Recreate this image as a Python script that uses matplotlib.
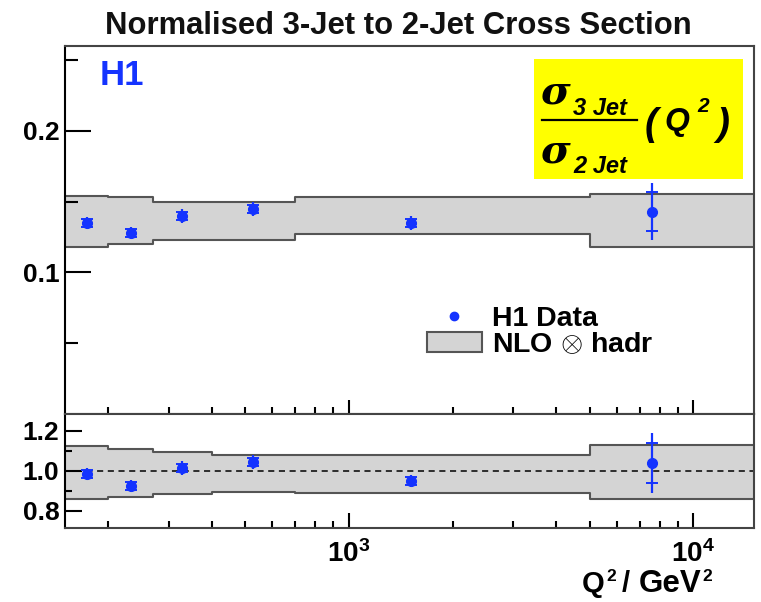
import numpy as np
import matplotlib
matplotlib.use('Agg')
import matplotlib.pyplot as plt
from matplotlib.lines import Line2D
from matplotlib.patches import Patch
from matplotlib.ticker import FixedLocator, NullFormatter, FixedFormatter

plt.rcParams['font.family'] = ['Liberation Sans', 'DejaVu Sans']
plt.rcParams['font.weight'] = 'bold'
plt.rcParams['mathtext.fontset'] = 'custom'
plt.rcParams['mathtext.rm'] = 'Liberation Sans:bold'
plt.rcParams['mathtext.it'] = 'Liberation Sans:bold:italic'
plt.rcParams['mathtext.bf'] = 'Liberation Sans:bold'

##### data
bin_edges = [150, 200, 270, 400, 700, 5000, 15000]
nlo_lo = [0.118, 0.120, 0.1226, 0.123, 0.1275, 0.118]
nlo_hi = [0.154, 0.1535, 0.150, 0.150, 0.1535, 0.1556]
ratio_lo = [0.86, 0.87, 0.885, 0.893, 0.89, 0.86]
ratio_hi = [1.125, 1.11, 1.095, 1.08, 1.08, 1.13]

q2 = [174, 233, 328, 527, 1515, 7600]
r32 = [0.135, 0.128, 0.140, 0.145, 0.135, 0.143]
r32_stat = [0.003, 0.003, 0.003, 0.003, 0.003, 0.014]
r32_tot = [0.004, 0.004, 0.005, 0.005, 0.005, 0.020]

ratio = [0.985, 0.925, 1.015, 1.045, 0.95, 1.04]
ratio_stat = [0.02, 0.02, 0.02, 0.02, 0.02, 0.10]
ratio_tot = [0.03, 0.03, 0.035, 0.035, 0.03, 0.15]

blue = '#1433ff'
band_c = '#d4d4d4'
edge_c = '#555555'

W, H = 761, 602
fig = plt.figure(figsize=(W / 100, H / 100), dpi=100)

def fx(px):
    return px / W

def fy(py):
    return 1 - py / H

ax = fig.add_axes([fx(65), fy(414), fx(754) - fx(65), fy(46) - fy(414)])
axr = fig.add_axes([fx(65), fy(528), fx(754) - fx(65), fy(414) - fy(528)], sharex=ax)


def draw_band(a, lo, hi):
    lo_s = list(lo) + [lo[-1]]
    hi_s = list(hi) + [hi[-1]]
    a.fill_between(bin_edges, lo_s, hi_s, step='post', color=band_c, lw=0)
    a.step(bin_edges, lo_s, where='post', color=edge_c, lw=1.5)
    a.step(bin_edges, hi_s, where='post', color=edge_c, lw=1.5)


def draw_points(a, y, stat, tot):
    a.errorbar(q2, y, yerr=tot, fmt='o', color=blue, ms=7, elinewidth=1.6, capsize=0, zorder=5)
    a.errorbar(q2, y, yerr=stat, fmt='none', ecolor=blue, elinewidth=0, capsize=4.5, capthick=1.4, zorder=5)


draw_band(ax, nlo_lo, nlo_hi)
draw_points(ax, r32, r32_stat, r32_tot)
draw_band(axr, ratio_lo, ratio_hi)
axr.axhline(1.0, color='black', ls=(0, (4, 3)), lw=1.1)
draw_points(axr, ratio, ratio_stat, ratio_tot)

ax.set_xscale('log')
ax.set_xlim(150, 15000)
ax.set_ylim(0.0, 0.26)
axr.set_ylim(0.715, 1.285)

for a in (ax, axr):
    for s in ('top', 'right', 'bottom'):
        a.spines[s].set_color('#444444')
        a.spines[s].set_linewidth(1.5)
    a.spines['left'].set_color('black')
    a.spines['left'].set_linewidth(1.5)
    a.xaxis.set_major_locator(FixedLocator([1e3, 1e4]))
    a.xaxis.set_minor_locator(FixedLocator([200, 300, 400, 500, 600, 700, 800, 900,
                                            2000, 3000, 4000, 5000, 6000, 7000, 8000, 9000]))
    a.xaxis.set_minor_formatter(NullFormatter())
    a.tick_params(axis='both', which='both', direction='in', top=False, right=False,
                  color='black', width=1.5)

ax.tick_params(axis='x', which='major', length=10, labelbottom=False)
ax.tick_params(axis='x', which='minor', length=5)
ax.yaxis.set_major_locator(FixedLocator([0.1, 0.2]))
ax.yaxis.set_minor_locator(FixedLocator([0.05, 0.15, 0.25]))
ax.yaxis.set_major_formatter(FixedFormatter(['0.1', '0.2']))
ax.tick_params(axis='y', which='major', length=19, labelsize=19, pad=4)
ax.tick_params(axis='y', which='minor', length=9)

axr.yaxis.set_major_locator(FixedLocator([0.8, 1.0, 1.2]))
axr.yaxis.set_minor_locator(FixedLocator([0.9, 1.1]))
axr.yaxis.set_major_formatter(FixedFormatter(['0.8', '1.0', '1.2']))
axr.tick_params(axis='y', which='major', length=12, labelsize=19, pad=4)
axr.tick_params(axis='y', which='minor', length=5)
axr.xaxis.set_major_formatter(FixedFormatter([r'$10^{3}$', r'$10^{4}$']))
axr.tick_params(axis='x', which='major', length=11, labelsize=20, pad=9)
axr.tick_params(axis='x', which='minor', length=5)

# legend
handles = [Line2D([], [], ls='none', marker='o', color=blue, ms=6),
           Patch(facecolor=band_c, edgecolor=edge_c, lw=1.5)]
leg = ax.legend(handles, ['H1 Data', r'NLO $\otimes$ hadr'], loc='upper left',
                bbox_to_anchor=(0.525, 0.293), frameon=False, fontsize=20.5,
                handlelength=1.95, handleheight=0.7, handletextpad=0.35,
                labelspacing=0.0, borderpad=0, borderaxespad=0)

# texts
fig.text(fx(398), fy(34), 'Normalised 3-Jet to 2-Jet Cross Section', ha='center',
         va='baseline', fontsize=22.3, fontweight='bold', color='#111111')
fig.text(fx(100), fy(85), 'H1', ha='left', va='baseline', fontsize=25,
         fontweight='bold', color=blue)

# yellow label box
fig.patches.append(plt.Rectangle((fx(534), fy(179)), fx(743) - fx(534), fy(59) - fy(179),
                                 transform=fig.transFigure, facecolor='#ffff00',
                                 edgecolor='none', zorder=3))
sig_kw = dict(family=['DejaVu Serif'], style='italic', fontweight='bold',
              fontsize=29, ha='left', va='baseline', zorder=4)
sub_kw = dict(style='italic', fontweight='bold', fontsize=17, ha='left', va='baseline', zorder=4)
fig.text(fx(540), fy(103), '\u03c3', **sig_kw)
fig.text(fx(573), fy(115), '3 Jet', **sub_kw)
fig.text(fx(540), fy(163), '\u03c3', **sig_kw)
fig.text(fx(573), fy(173), '2 Jet', **sub_kw)
fig.add_artist(Line2D([fx(542), fx(637)], [fy(120), fy(120)], color='black', lw=1.6, zorder=4))
big_kw = dict(style='italic', fontweight='bold', ha='left', va='baseline', zorder=4)
fig.text(fx(645), fy(135), '(', fontsize=28, **big_kw)
fig.text(fx(664), fy(130), 'Q', fontsize=23, **big_kw)
fig.text(fx(697), fy(112), '2', fontsize=15, **big_kw)
fig.text(fx(716), fy(135), ')', fontsize=28, **big_kw)

# x axis title, pieced together
xl_kw = dict(va='baseline', fontweight='bold')
fig.text(fx(582), fy(592), 'Q', ha='left', fontsize=21, **xl_kw)
fig.text(fx(606), fy(581), '2', ha='left', fontsize=12.5, **xl_kw)
fig.text(fx(622), fy(592), '/', ha='left', fontsize=21, **xl_kw)
fig.text(fx(639), fy(592), 'GeV', ha='left', fontsize=22.5, **xl_kw)
fig.text(fx(702), fy(581), '2', ha='left', fontsize=12.5, **xl_kw)

fig.savefig('out.png', dpi=100)
